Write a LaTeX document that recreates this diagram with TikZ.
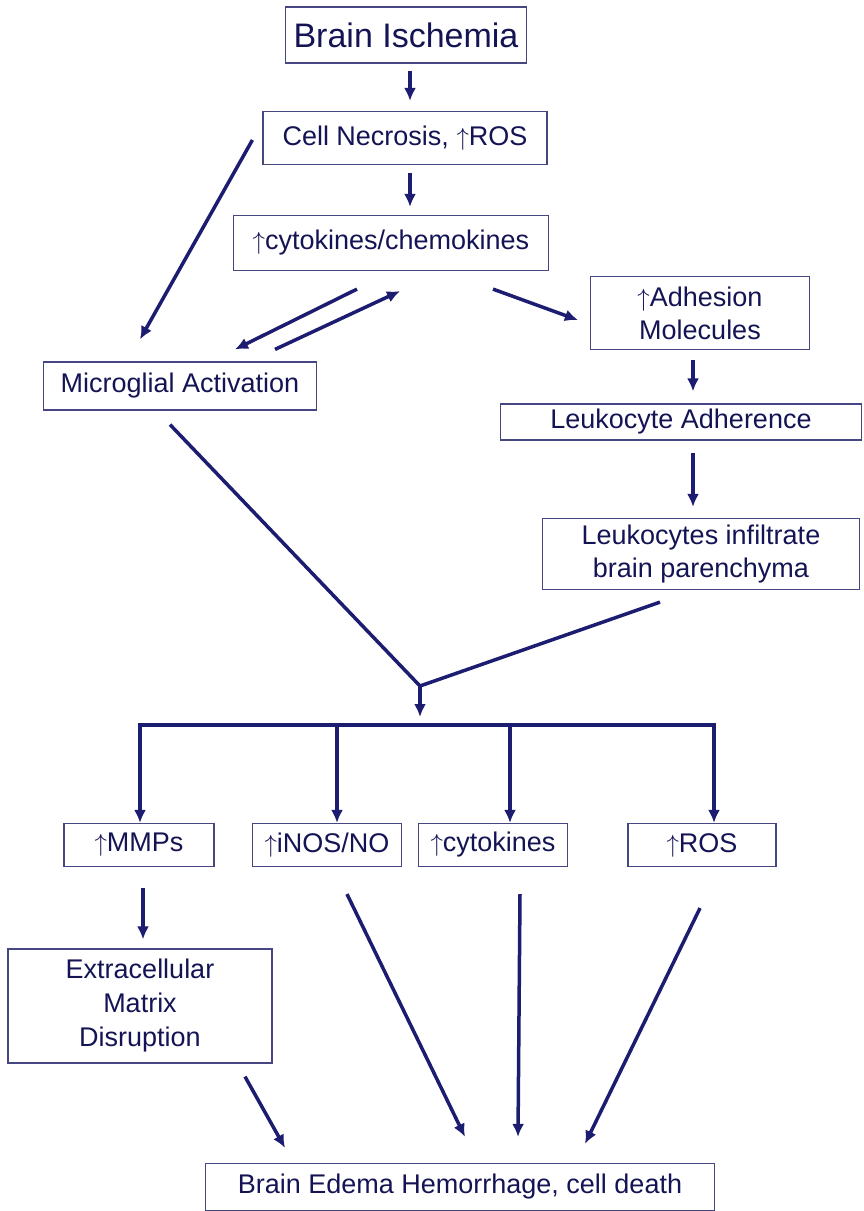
\documentclass[tikz,border=0pt]{standalone}
\usepackage{fontspec}
\setmainfont{Liberation Sans}
\usepackage{xcolor}
\usepackage{tikz}
\usetikzlibrary{arrows.meta, calc}

\definecolor{linenavy}{RGB}{28,28,112}
\definecolor{textnavy}{RGB}{20,20,85}
\definecolor{boxedge}{RGB}{70,70,130}
\newcommand{\upar}{\ensuremath{\uparrow}}

\begin{document}
\begin{tikzpicture}[x=1pt, y=-1pt, font=\fontsize{27}{33}\selectfont,
    box/.style={draw=boxedge, line width=1.2pt, text=textnavy, align=center, inner sep=0pt},
    conn/.style={draw=linenavy, line width=3.5pt},
    >={Latex[length=13pt, width=12pt]}]
    \useasboundingbox (0,0) rectangle (864,1211);

    \node[box, minimum width=241pt, minimum height=56pt, font=\fontsize{34}{40}\selectfont] (isch) at (406,35) {Brain Ischemia};
    \node[box, minimum width=284pt, minimum height=53pt] (nec) at (405,138) {Cell Necrosis, \upar ROS};
    \node[box, minimum width=315pt, minimum height=55pt] (cyt) at (391,243) {\upar cytokines/chemokines};
    \node[box, minimum width=219pt, minimum height=73pt] (adh) at (700,313) {\upar Adhesion\\Molecules};
    \node[box, minimum width=273pt, minimum height=48pt] (micro) at (180,386) {Microglial Activation};
    \node[box, minimum width=361pt, minimum height=36pt] (adher) at (681,422) {Leukocyte Adherence};
    \node[box, minimum width=317pt, minimum height=71pt] (infl) at (701,554) {Leukocytes infiltrate\\brain parenchyma};

    \node[box, minimum width=150pt, minimum height=43pt] (mmp) at (139,845) {\upar MMPs};
    \node[box, minimum width=149pt, minimum height=43pt] (inos) at (327,845) {\upar iNOS/NO};
    \node[box, minimum width=149pt, minimum height=43pt] (cytk) at (493,845) {\upar cytokines};
    \node[box, minimum width=148pt, minimum height=43pt] (ros) at (702,845) {\upar ROS};
    \node[box, minimum width=264pt, minimum height=114pt, font=\fontsize{27}{34}\selectfont] (ecm) at (140,1006) {Extracellular\\Matrix\\Disruption};
    \node[box, minimum width=509pt, minimum height=47pt] (edema) at (460,1187) {Brain Edema Hemorrhage, cell death};

    % upper cascade
    \draw[conn, ->] ($(isch.south)+(4,7)$) -- ($(nec.north)+(5,-10)$);
    \draw[conn, ->] ($(nec.south)+(5,8)$) -- ($(cyt.north)+(19,-8)$);
    \draw[conn, ->] ($(nec.west)+(-10,2)$) -- ($(micro.north)+(-40,-22)$);
    \draw[conn, ->] ($(cyt.south)+(-34,18)$) -- ($(micro.north)+(55,-12)$);
    \draw[conn, ->] ($(micro.north)+(95,-12)$) -- ($(cyt.south)+(9,20)$);
    \draw[conn, ->] ($(cyt.south)+(102,18)$) -- ($(adh.west)+(-12,7)$);
    \draw[conn, ->] ($(adh.south)+(-7,10)$) -- ($(adher.north)+(12,-12)$);
    \draw[conn, ->] ($(adher.south)+(12,12)$) -- ($(infl.north)+(-8,-11)$);

    % merge and split
    \coordinate (join) at (420,686);
    \coordinate (bar) at (420,725);
    \draw[conn] ($(micro.south)+(-10,14)$) -- (join) -- ($(infl.south)+(-41,12)$);
    \draw[conn, ->, shorten >=8pt] (join) -- (bar);
    \foreach \n/\dx in {mmp/1, inos/10, cytk/17, ros/12}
        \coordinate (d\n) at ($(\n.north)+(\dx,0)$);
    \draw[conn, <->] (dmmp) -- (dmmp |- bar) -- (dros |- bar) -- (dros);
    \foreach \n in {inos, cytk}
        \draw[conn, ->] (d\n |- bar) -- (d\n);

    % lower cascade
    \draw[conn, ->] ($(mmp.south)+(4,21)$) -- ($(ecm.north)+(3,-9)$);
    \draw[conn, ->] ($(ecm.south)+(105,13)$) -- ($(edema.north)+(-175,-15)$);
    \draw[conn, ->] ($(inos.south)+(20,27)$) -- ($(edema.north)+(5,-26)$);
    \draw[conn, ->] ($(cytk.south)+(27,27)$) -- ($(edema.north)+(58,-26)$);
    \draw[conn, ->] ($(ros.south)+(-2,41)$) -- ($(edema.north)+(125,-19)$);
\end{tikzpicture}
\end{document}
